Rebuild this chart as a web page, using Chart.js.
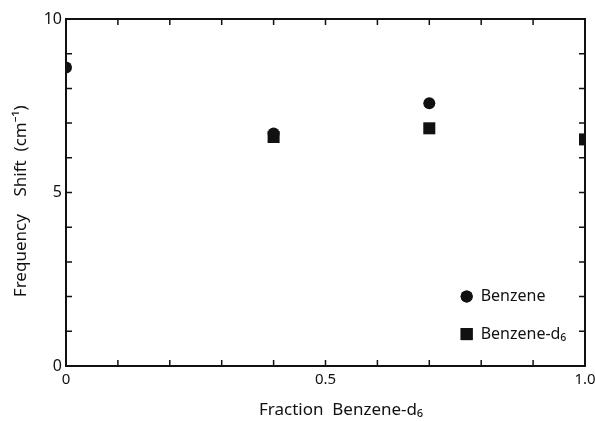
<!DOCTYPE html>
<html><head><meta charset="utf-8">
<script src="https://cdn.jsdelivr.net/npm/chart.js@4/dist/chart.umd.min.js"></script>
<style>html,body{margin:0;padding:0;background:#fff;overflow:hidden}</style>
</head><body>
<canvas id="c" width="595" height="421"></canvas>
<script>
// ---- data ----
const fractionBenzene   = [0, 0.4, 0.7];
const shiftBenzene      = [8.6, 6.7, 7.57];
const fractionBenzeneD6 = [0.4, 0.7, 1.0];
const shiftBenzeneD6    = [6.6, 6.85, 6.53];
const seriesNames = ['Benzene', 'Benzene-d\u2086'];
const xTickLabels = {0: '0', 0.5: '0.5', 1: '1.0'};
const yTickLabels = {0: '0', 5: '5', 10: '10'};
const xTitle = '       Fraction  Benzene-d\u2086';
const yTitle = 'Frequency    Shift  (cm\u207B\u00B9)    ';

const FONT = '"Noto Sans", "DejaVu Sans", sans-serif';

function toPoints(xs, ys) { return xs.map((x, i) => ({x: x, y: ys[i]})); }
function near(map, v) {
  for (const k in map) { if (Math.abs(Number(k) - v) < 1e-6) return map[k]; }
  return '';
}

const framePlugin = {
  id: 'frame',
  afterDraw(chart) {
    const {ctx, chartArea: a, scales} = chart;
    ctx.save();
    ctx.strokeStyle = '#111';
    ctx.lineWidth = 1.5;
    const tl = 6;
    ctx.beginPath();
    scales.x.ticks.forEach(t => {
      const px = scales.x.getPixelForValue(t.value);
      ctx.moveTo(px, a.bottom); ctx.lineTo(px, a.bottom - tl);
      ctx.moveTo(px, a.top); ctx.lineTo(px, a.top + tl);
    });
    scales.y.ticks.forEach(t => {
      const py = scales.y.getPixelForValue(t.value);
      ctx.moveTo(a.left, py); ctx.lineTo(a.left + tl, py);
      ctx.moveTo(a.right, py); ctx.lineTo(a.right - tl, py);
    });
    ctx.stroke();
    ctx.lineWidth = 2;
    ctx.strokeRect(a.left, a.top, a.right - a.left, a.bottom - a.top);
    ctx.restore();
  }
};

const innerLegend = {
  id: 'innerLegend',
  afterDatasetsDraw(chart, args, opts) {
    const {ctx, chartArea: a} = chart;
    ctx.save();
    chart.data.datasets.forEach((ds, i) => {
      const cx = a.left + opts.x * (a.right - a.left);
      const cy = a.top + opts.ys[i] * (a.bottom - a.top);
      Chart.helpers.drawPoint(ctx, {
        pointStyle: ds.pointStyle, radius: ds.pointRadius, borderWidth: 0, rotation: 0
      }, cx, cy);
      ctx.fillStyle = ds.backgroundColor;
      ctx.fill();
      ctx.fillStyle = '#111';
      ctx.font = '16px ' + FONT;
      ctx.textBaseline = 'middle';
      ctx.textAlign = 'left';
      ctx.fillText(ds.label, cx + 14, cy);
    });
    ctx.restore();
  }
};

new Chart(document.getElementById('c'), {
  type: 'scatter',
  data: {
    datasets: [
      { label: seriesNames[0], data: toPoints(fractionBenzene, shiftBenzene),
        pointStyle: 'circle', pointRadius: 6, backgroundColor: '#111', borderWidth: 0 },
      { label: seriesNames[1], data: toPoints(fractionBenzeneD6, shiftBenzeneD6),
        pointStyle: 'rect', pointRadius: 8.5, backgroundColor: '#111', borderWidth: 0 }
    ]
  },
  options: {
    responsive: false,
    animation: false,
    devicePixelRatio: 1,
    layout: { padding: { top: 19, right: 9, left: 0, bottom: 0 } },
    plugins: {
      legend: { display: false },
      tooltip: { enabled: false },
      innerLegend: { x: 0.772, ys: [0.80, 0.908] }
    },
    scales: {
      x: {
        type: 'linear', min: 0, max: 1,
        grid: { display: false, drawTicks: false },
        border: { display: false },
        ticks: {
          stepSize: 0.1, autoSkip: false, maxRotation: 0, padding: 5,
          color: '#111', font: { family: FONT, size: 15 },
          callback: v => near(xTickLabels, v)
        },
        title: { display: true, text: xTitle, color: '#111',
                 font: { family: FONT, size: 17 }, padding: { top: 0, bottom: 1 } },
        afterFit(s) { s.height = 55; s.paddingLeft = 0; s.paddingRight = 10; }
      },
      y: {
        type: 'linear', min: 0, max: 10,
        grid: { display: false, drawTicks: false },
        border: { display: false },
        ticks: {
          stepSize: 1, autoSkip: false, padding: 4,
          color: '#111', font: { family: FONT, size: 16 },
          callback: v => near(yTickLabels, v)
        },
        title: { display: true, text: yTitle, color: '#111',
                 font: { family: FONT, size: 17 }, padding: { top: 11, bottom: 0 } },
        afterFit(s) { s.width = 66; s.paddingTop = 0; s.paddingBottom = 0; }
      }
    }
  },
  plugins: [framePlugin, innerLegend]
});
</script>
</body></html>
